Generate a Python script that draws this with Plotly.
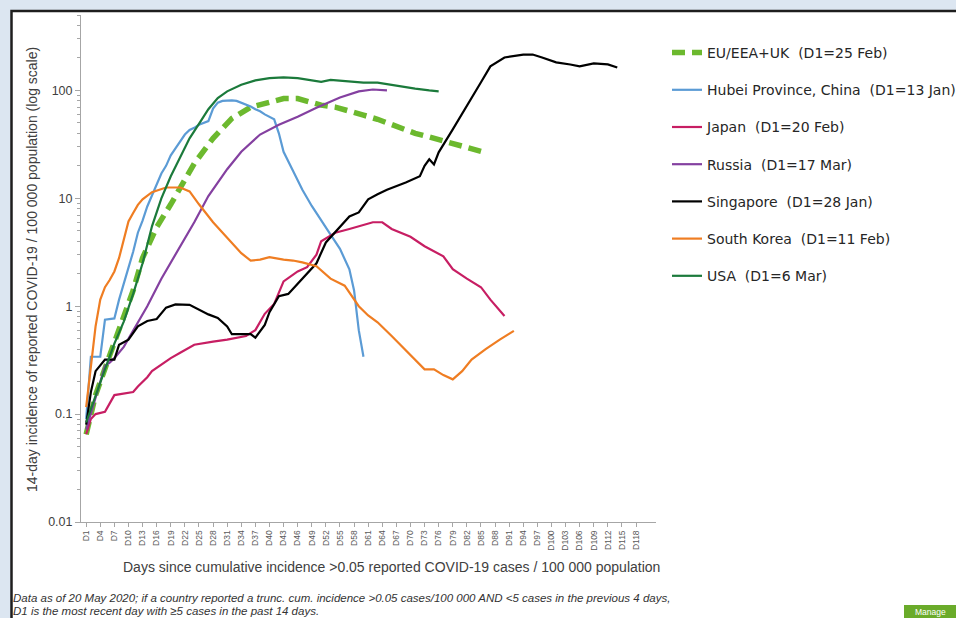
import plotly.graph_objects as go

# ---------------- data ----------------
eu_days = [1, 3, 6, 8, 11, 13, 16, 19, 21, 24, 28, 32, 36, 40, 43, 46, 49, 51, 54, 57, 60, 63, 66, 68, 71, 74, 77, 80, 83, 86]
eu_vals = [0.065, 0.15, 0.35, 0.6, 1.4, 2.8, 5.4, 8.8, 12.6, 21, 36, 55, 70, 79, 84, 84, 78, 73, 70, 65, 59, 54, 48, 45, 40, 37, 34, 31, 28.5, 26.5]

hubei_days = [1, 2, 3, 4, 5, 6, 7, 8, 9, 10, 11, 12, 13, 14, 15, 16, 17, 18, 19, 20, 21, 22, 23, 24, 25, 26, 27, 28, 29, 30, 31, 32, 33, 34, 35, 36, 37, 38, 39, 40, 41, 42, 43, 45, 47, 49, 51, 53, 55, 57, 58, 59, 60]
hubei_vals = [0.09, 0.34, 0.34, 0.34, 0.75, 0.76, 0.77, 1.15, 1.6, 2.2, 3.2, 4.8, 6.2, 8.4, 10.5, 13.5, 17, 20, 25, 29, 34, 39, 43, 45, 48, 50, 52, 68, 77, 80, 81, 81, 80, 77, 74, 71, 67, 64, 60, 57, 54, 40, 27, 18, 12, 8.5, 6.2, 4.6, 3.4, 2.2, 1.4, 0.6, 0.34]

japan_days = [1, 2, 3, 5, 7, 9, 11, 12, 14, 15, 17, 19, 21, 24, 28, 31, 35, 37, 39, 41, 43, 46, 48, 50, 51, 54, 57, 60, 62, 64, 66, 70, 73, 77, 79, 82, 85, 87, 90]
japan_vals = [0.065, 0.09, 0.1, 0.105, 0.15, 0.155, 0.16, 0.18, 0.22, 0.25, 0.29, 0.33, 0.37, 0.44, 0.47, 0.49, 0.53, 0.6, 0.85, 1.05, 1.7, 2.1, 2.3, 3.0, 4.0, 4.8, 5.2, 5.7, 6.0, 6.0, 5.2, 4.4, 3.6, 2.9, 2.2, 1.8, 1.5, 1.15, 0.81]

russia_days = [1, 2, 4, 5, 6, 7, 9, 11, 13, 14, 17, 20, 22, 24, 27, 31, 34, 38, 42, 46, 50, 55, 59, 62, 65]
russia_vals = [0.072, 0.1, 0.2, 0.28, 0.3, 0.33, 0.42, 0.6, 0.85, 1.0, 1.8, 3.0, 4.3, 6.0, 10.5, 18.6, 27, 39, 48, 57, 69, 86, 98, 102, 100]

singapore_days = [1, 2, 3, 5, 7, 8, 10, 12, 14, 16, 18, 20, 23, 24, 27, 29, 31, 32, 34, 36, 37, 39, 40, 42, 44, 47, 50, 52, 54, 57, 59, 61, 63, 65, 69, 72, 73, 74, 75, 76, 79, 82, 85, 87, 90, 94, 96, 98, 101, 104, 106, 109, 112, 114]
singapore_vals = [0.08, 0.16, 0.25, 0.32, 0.32, 0.44, 0.49, 0.65, 0.73, 0.76, 0.97, 1.04, 1.03, 0.98, 0.84, 0.78, 0.65, 0.55, 0.55, 0.55, 0.51, 0.67, 0.88, 1.24, 1.3, 1.8, 2.5, 3.9, 4.9, 6.8, 7.4, 9.8, 10.9, 12, 14, 16, 20, 23, 20.6, 26.7, 43.5, 71, 119, 167, 202, 215, 215, 202, 182, 174, 167, 178, 174, 163]

korea_days = [1, 2, 3, 4, 5, 6, 7, 8, 9, 10, 11, 12, 13, 15, 18, 21, 23, 25, 28, 31, 34, 36, 38, 40, 43, 45, 47, 50, 53, 56, 59, 61, 63, 66, 68, 70, 73, 75, 77, 79, 81, 83, 86, 89, 92]
korea_vals = [0.116, 0.28, 0.65, 1.15, 1.5, 1.75, 2.1, 2.8, 4.2, 6.1, 7.3, 8.7, 9.8, 11.4, 12.6, 12.6, 11.6, 8.8, 6.0, 4.3, 3.1, 2.65, 2.7, 2.85, 2.7, 2.65, 2.55, 2.35, 1.8, 1.55, 1.0, 0.82, 0.71, 0.53, 0.43, 0.35, 0.26, 0.26, 0.23, 0.21, 0.25, 0.32, 0.4, 0.49, 0.59]

usa_days = [1, 3, 5, 7, 9, 11, 13, 15, 17, 19, 21, 23, 25, 27, 29, 31, 34, 37, 40, 43, 46, 49, 51, 53, 56, 60, 63, 67, 71, 74, 76]
usa_vals = [0.084, 0.15, 0.26, 0.45, 0.72, 1.3, 2.5, 5.5, 10, 16, 24, 36, 49, 67, 85, 98, 113, 124, 130, 132, 130, 124, 120, 125, 122, 118, 118, 110, 104, 100, 98]

series_names = [
    "EU/EEA+UK  (D1=25 Feb)",
    "Hubei Province, China  (D1=13 Jan)",
    "Japan  (D1=20 Feb)",
    "Russia  (D1=17 Mar)",
    "Singapore  (D1=28 Jan)",
    "South Korea  (D1=11 Feb)",
    "USA  (D1=6 Mar)",
]

x_tick_days = list(range(1, 119, 3))
x_tick_labels = ["D%d" % d for d in x_tick_days]
y_tick_vals = [0.01, 0.1, 1, 10, 100]
y_tick_labels = ["0.01", "0.1", "1", "10", "100"]

# ---------------- figure ----------------
W, H = 956, 618
L, R, T, B = 81, 300, 15, 96
PW, PH = W - L - R, H - T - B


def px(xp):
    return (xp - L) / PW


def py(yp):
    return (H - B - yp) / PH


styles = [
    dict(color="#6cb92e", width=5.5, dash="13px,7px"),
    dict(color="#5b9bd5", width=2.2),
    dict(color="#c71e63", width=2.2),
    dict(color="#8440a0", width=2.2),
    dict(color="#000000", width=2.2),
    dict(color="#ef7d22", width=2.2),
    dict(color="#1b7a3b", width=2.2),
]
data = [
    (eu_days, eu_vals), (hubei_days, hubei_vals), (japan_days, japan_vals),
    (russia_days, russia_vals), (singapore_days, singapore_vals),
    (korea_days, korea_vals), (usa_days, usa_vals),
]

fig = go.Figure()
for i, ((xs, ys), name, st) in enumerate(zip(data, series_names, styles)):
    fig.add_trace(go.Scatter(x=xs, y=ys, mode="lines", name=name, line=st,
                             legendgroup="g%d" % i, hoverinfo="skip"))

minor_vals = [m * 10 ** k for k in range(-2, 3) for m in range(2, 10)]

fig.update_layout(
    width=W, height=H,
    margin=dict(l=L, r=R, t=T, b=B, pad=0, autoexpand=False),
    paper_bgcolor="#dce6f1",
    plot_bgcolor="rgba(0,0,0,0)",
    font=dict(family="Liberation Sans, Arial, sans-serif", color="#404040"),
    showlegend=True,
    legend=dict(x=px(667), y=py(37), xanchor="left", yanchor="top",
                font=dict(family="DejaVu Sans, Verdana, sans-serif", size=14, color="#262626"),
                bgcolor="rgba(0,0,0,0)", tracegroupgap=16, itemwidth=30),
    xaxis=dict(
        range=[-0.1, -0.1 + PW / 4.7], showgrid=False, zeroline=False,
        showline=True, linecolor="#a6a6a6", linewidth=1,
        tickmode="array", tickvals=x_tick_days, ticktext=x_tick_labels,
        ticks="outside", ticklen=4, tickcolor="#a6a6a6", tickangle=-90,
        tickfont=dict(size=8.5, color="#595959"),
    ),
    yaxis=dict(
        type="log", range=[-2, 2.699], showgrid=False, zeroline=False,
        showline=True, linecolor="#a6a6a6", linewidth=1,
        tickmode="array", tickvals=y_tick_vals, ticktext=y_tick_labels,
        ticks="outside", ticklen=5, tickcolor="#a6a6a6",
        tickfont=dict(size=12.5, color="#404040"),
        minor=dict(tickmode="array", tickvals=minor_vals, ticks="outside",
                   ticklen=3, tickcolor="#a6a6a6", showgrid=False),
    ),
    shapes=[
        dict(type="rect", xref="paper", yref="paper", layer="below",
             x0=px(11.5), x1=px(970), y0=py(640), y1=py(11),
             fillcolor="#ffffff", line=dict(color="#1e1e1e", width=2.5)),
        dict(type="rect", xref="paper", yref="paper", layer="above",
             x0=px(904), x1=px(962), y0=py(626), y1=py(605),
             fillcolor="#6aab2a", line=dict(width=0)),
    ],
    annotations=[
        dict(text="14-day incidence of reported COVID-19 / 100 000 population (log scale)",
             xref="paper", yref="paper", x=px(32), y=py(270), textangle=-90,
             showarrow=False, xanchor="center", yanchor="middle",
             font=dict(size=14, color="#404040")),
        dict(text="Days since cumulative incidence >0.05 reported COVID-19 cases / 100 000 population",
             xref="paper", yref="paper", x=px(391), y=py(567),
             showarrow=False, xanchor="center", yanchor="middle",
             font=dict(size=14, color="#404040")),
        dict(text="<i>Data as of 20 May 2020; if a country reported a trunc. cum. incidence &gt;0.05 cases/100 000 AND &lt;5 cases in the previous 4 days,</i>",
             xref="paper", yref="paper", x=px(11), y=py(598),
             showarrow=False, xanchor="left", yanchor="middle",
             font=dict(size=11.5, color="#333333")),
        dict(text="<i>D1 is the most recent day with ≥5 cases in the past 14 days.</i>",
             xref="paper", yref="paper", x=px(11), y=py(611),
             showarrow=False, xanchor="left", yanchor="middle",
             font=dict(size=11.5, color="#333333")),
        dict(text="Manage", xref="paper", yref="paper", x=px(930), y=py(612),
             showarrow=False, xanchor="center", yanchor="middle",
             font=dict(size=8.5, color="#ffffff")),
    ],
)

fig.write_html("out.html")
